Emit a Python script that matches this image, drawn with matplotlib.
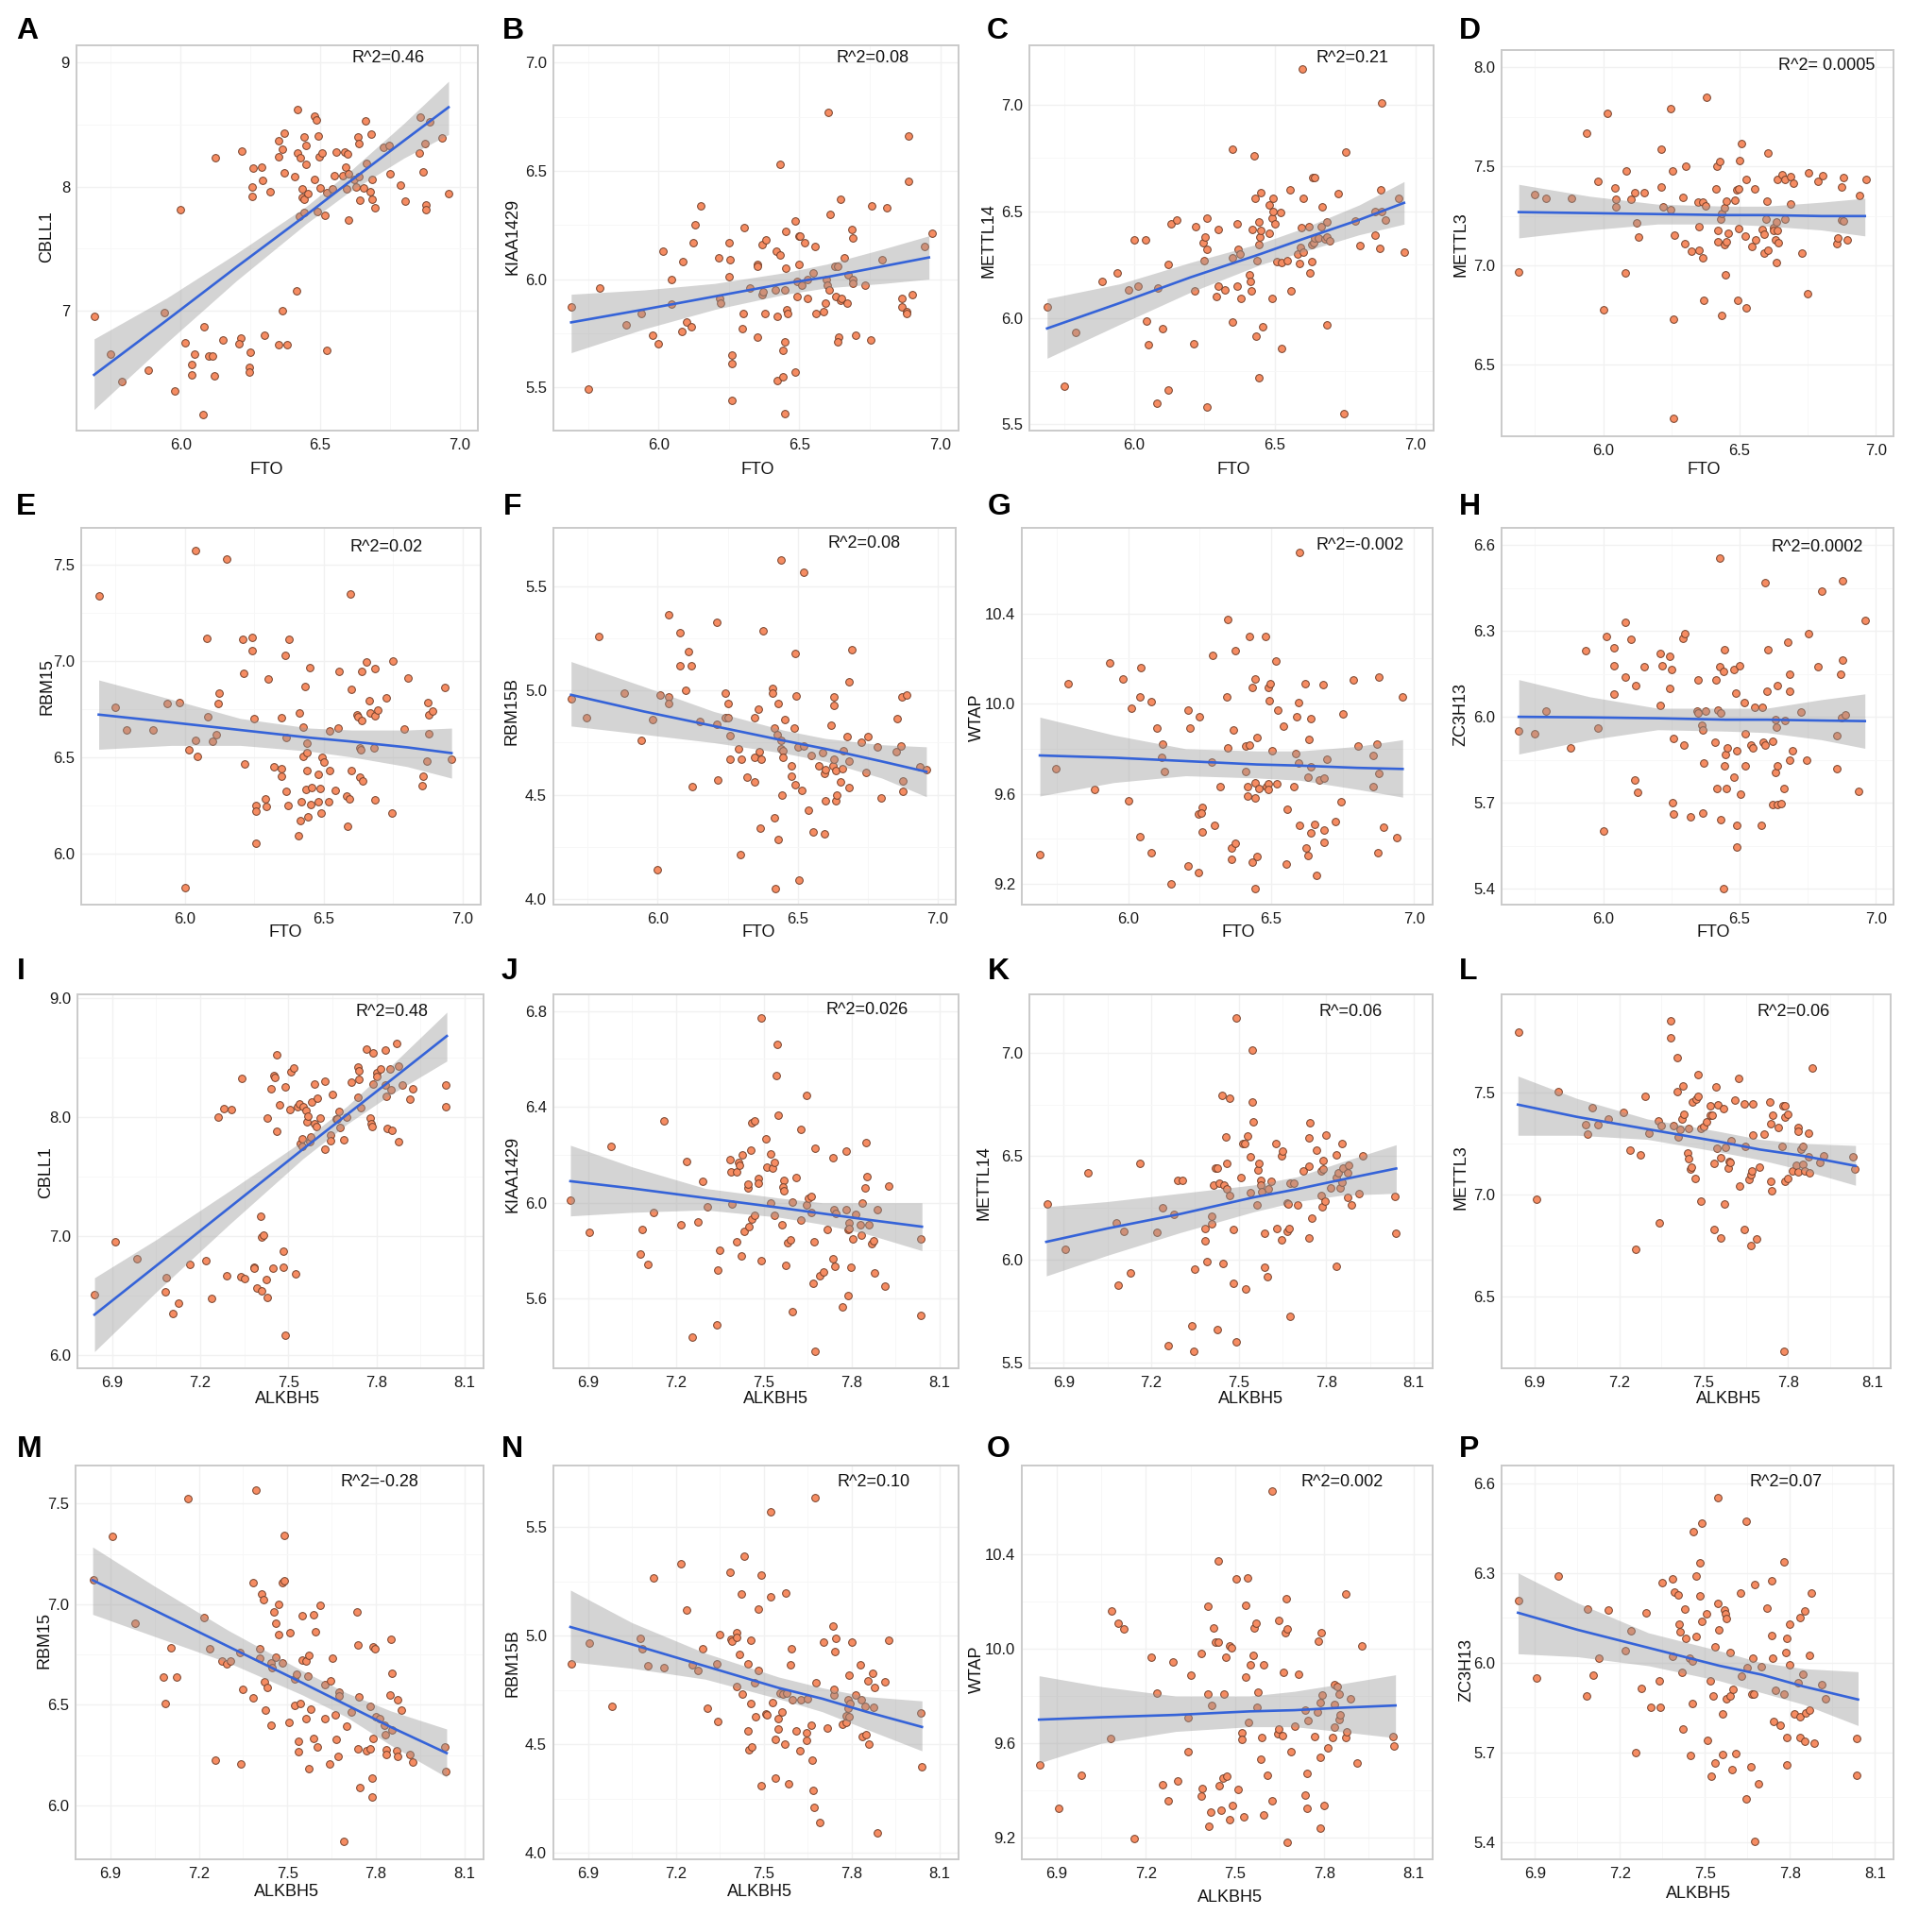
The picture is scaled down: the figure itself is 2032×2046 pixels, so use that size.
import matplotlib
matplotlib.use('Agg')
import matplotlib.pyplot as plt

plt.rcParams['font.family'] = ['Liberation Sans', 'DejaVu Sans']

W, H = 2033, 2046

# points, one list per panel (gene x, gene y)
pts_a = [(5.69,6.95),(5.75,6.65),(5.79,6.43),(5.885,6.52),(5.94,6.98),(5.98,6.35),(6.0,7.81),(6.015,6.74),(6.05,6.65),(6.04,6.56),(6.04,6.48),(6.08,6.16),(6.085,6.87),(6.10,6.63),(6.115,6.63),(6.12,6.47),(6.125,8.23),(6.15,6.76),(6.215,6.78),(6.21,6.73),(6.22,8.29),(6.25,6.66),(6.245,6.54),(6.245,6.50),(6.257,8.0),(6.257,7.92),(6.26,8.15),(6.29,8.16),(6.295,8.05),(6.30,6.80),(6.32,7.96),(6.35,6.72),(6.35,8.24),(6.35,8.37),(6.365,8.30),(6.365,7.0),(6.37,8.11),(6.373,8.43),(6.38,6.72),(6.41,8.08),(6.414,7.16),(6.42,8.27),(6.42,8.62),(6.43,8.23),(6.426,7.76),(6.435,7.98),(6.434,7.91),(6.443,7.90),(6.444,8.40),(6.45,8.33),(6.45,8.18),(6.444,7.79),(6.455,7.94),(6.48,8.06),(6.48,8.57),(6.488,8.54),(6.49,7.80),(6.494,8.41),(6.495,8.24),(6.50,7.99),(6.506,8.27),(6.517,7.77),(6.523,7.95),(6.523,6.68),(6.543,7.98),(6.552,8.09),(6.557,8.28),(6.58,8.09),(6.587,8.28),(6.59,8.16),(6.595,7.98),(6.598,8.26),(6.602,7.73),(6.60,8.10),(6.623,8.06),(6.63,8.0),(6.634,8.40),(6.64,8.35),(6.64,8.08),(6.643,7.89),(6.655,7.99),(6.664,8.53),(6.666,8.19),(6.68,7.96),(6.684,8.42),(6.685,7.90),(6.687,8.06),(6.695,7.83),(6.727,8.32),(6.746,8.33),(6.752,8.10),(6.787,8.01),(6.804,7.88),(6.855,8.27),(6.858,8.56),(6.87,8.12),(6.875,8.35),(6.88,7.85),(6.88,7.81),(6.894,8.52),(6.937,8.39),(6.96,7.94)]
pts_b = [(5.69,5.87),(5.75,5.49),(5.79,5.96),(5.885,5.79),(5.94,5.84),(5.98,5.74),(6.0,5.70),(6.015,6.13),(6.045,6.0),(6.046,5.885),(6.083,5.76),(6.085,6.08),(6.10,5.80),(6.117,5.78),(6.122,6.17),(6.13,6.25),(6.15,6.34),(6.214,6.10),(6.217,5.91),(6.22,5.89),(6.25,6.17),(6.25,6.01),(6.254,6.09),(6.26,5.65),(6.26,5.61),(6.26,5.44),(6.296,5.77),(6.30,5.84),(6.304,6.24),(6.325,5.96),(6.35,6.07),(6.35,6.06),(6.35,5.73),(6.367,6.16),(6.368,5.93),(6.37,5.94),(6.378,5.84),(6.38,6.18),(6.414,5.95),(6.418,6.13),(6.423,5.83),(6.422,5.53),(6.43,6.53),(6.432,6.11),(6.44,5.67),(6.44,5.55),(6.448,5.95),(6.448,5.38),(6.449,5.71),(6.45,6.05),(6.453,6.22),(6.455,5.86),(6.459,5.84),(6.485,6.27),(6.485,5.57),(6.493,5.99),(6.493,5.92),(6.497,6.20),(6.503,6.20),(6.50,6.07),(6.51,5.97),(6.52,6.17),(6.528,5.91),(6.53,6.0),(6.55,6.03),(6.557,6.15),(6.56,5.84),(6.585,5.85),(6.593,5.89),(6.596,6.0),(6.60,5.97),(6.603,6.77),(6.606,5.95),(6.608,6.30),(6.627,6.06),(6.63,5.92),(6.637,6.06),(6.64,5.73),(6.637,5.71),(6.645,6.37),(6.645,5.90),(6.648,5.91),(6.66,6.10),(6.669,5.89),(6.673,6.02),(6.685,6.23),(6.69,6.19),(6.69,6.0),(6.69,5.98),(6.70,5.74),(6.733,5.97),(6.753,5.72),(6.758,6.34),(6.793,6.09),(6.81,6.33),(6.863,5.87),(6.864,5.91),(6.88,5.85),(6.88,5.84),(6.886,6.66),(6.886,6.45),(6.90,5.93),(6.945,6.15),(6.97,6.21)]
pts_c = [(5.69,6.05),(5.75,5.68),(5.79,5.93),(5.885,6.17),(5.94,6.21),(5.98,6.13),(6.0,6.365),(6.015,6.15),(6.04,6.365),(6.045,5.985),(6.05,5.875),(6.08,5.60),(6.085,6.14),(6.10,5.95),(6.12,5.66),(6.12,6.25),(6.13,6.44),(6.15,6.46),(6.215,6.125),(6.21,5.88),(6.22,6.43),(6.246,6.355),(6.253,6.38),(6.247,6.27),(6.26,6.32),(6.26,6.47),(6.257,5.58),(6.293,6.10),(6.298,6.15),(6.30,6.415),(6.323,6.13),(6.348,5.98),(6.35,6.79),(6.35,6.28),(6.365,6.44),(6.365,6.15),(6.368,6.32),(6.376,6.30),(6.38,6.09),(6.41,6.20),(6.414,6.17),(6.42,6.415),(6.418,6.125),(6.427,6.76),(6.43,6.56),(6.435,5.915),(6.436,6.27),(6.444,6.45),(6.444,6.345),(6.444,5.72),(6.446,6.38),(6.45,6.41),(6.45,6.59),(6.456,5.96),(6.48,6.395),(6.48,6.53),(6.49,6.47),(6.49,6.09),(6.493,6.56),(6.495,6.50),(6.50,6.44),(6.507,6.265),(6.52,6.495),(6.523,6.26),(6.523,5.855),(6.543,6.27),(6.553,6.60),(6.557,6.125),(6.58,6.30),(6.588,6.255),(6.59,6.33),(6.596,6.425),(6.597,7.17),(6.60,6.31),(6.603,6.56),(6.623,6.43),(6.625,6.21),(6.632,6.265),(6.633,6.345),(6.634,6.66),(6.64,6.66),(6.638,6.355),(6.643,6.375),(6.654,6.375),(6.664,6.43),(6.667,6.52),(6.68,6.37),(6.685,6.45),(6.687,6.38),(6.686,5.965),(6.696,6.36),(6.727,6.585),(6.747,5.55),(6.753,6.78),(6.787,6.457),(6.804,6.34),(6.856,6.50),(6.858,6.39),(6.873,6.325),(6.876,6.60),(6.88,7.01),(6.88,6.50),(6.894,6.46),(6.94,6.56),(6.962,6.31)]
pts_d = [(5.69,6.97),(5.75,7.36),(5.79,7.34),(5.885,7.34),(5.94,7.67),(5.98,7.425),(6.0,6.78),(6.014,7.767),(6.044,7.39),(6.045,7.336),(6.047,7.296),(6.082,6.965),(6.084,7.477),(6.10,7.336),(6.117,7.366),(6.122,7.217),(6.128,7.144),(6.15,7.366),(6.212,7.586),(6.214,7.398),(6.218,7.295),(6.247,7.79),(6.246,7.282),(6.253,7.48),(6.258,6.73),(6.26,7.154),(6.259,6.23),(6.294,7.345),(6.298,7.11),(6.303,7.50),(6.323,7.073),(6.349,7.32),(6.351,7.198),(6.351,7.078),(6.364,7.32),(6.366,7.04),(6.37,6.826),(6.374,7.30),(6.38,7.85),(6.412,7.388),(6.416,7.50),(6.42,7.18),(6.419,7.122),(6.427,7.523),(6.43,7.233),(6.435,7.265),(6.436,6.75),(6.445,7.29),(6.447,6.954),(6.446,7.105),(6.45,7.122),(6.453,7.323),(6.457,7.163),(6.482,7.328),(6.49,7.382),(6.492,6.827),(6.495,7.385),(6.497,7.187),(6.50,7.53),(6.508,7.618),(6.52,7.15),(6.524,6.786),(6.524,7.434),(6.545,7.095),(6.554,7.385),(6.559,7.128),(6.582,7.184),(6.589,7.062),(6.592,7.157),(6.597,7.233),(6.60,7.323),(6.603,7.076),(6.604,7.567),(6.625,7.193),(6.625,7.176),(6.634,7.22),(6.633,7.132),(6.634,7.017),(6.64,7.176),(6.64,7.437),(6.643,7.114),(6.656,7.461),(6.665,7.433),(6.667,7.236),(6.686,7.448),(6.687,7.31),(6.696,7.418),(6.729,7.063),(6.748,6.86),(6.754,7.466),(6.789,7.423),(6.806,7.452),(6.857,7.11),(6.859,7.14),(6.873,7.231),(6.876,7.395),(6.88,7.227),(6.88,7.442),(6.895,7.128),(6.939,7.352),(6.963,7.433)]
pts_e = [(5.69,7.335),(5.75,6.76),(5.79,6.64),(5.885,6.64),(5.935,6.78),(5.98,6.785),(6.0,5.82),(6.013,6.535),(6.04,7.57),(6.04,6.585),(6.045,6.505),(6.08,7.115),(6.083,6.71),(6.10,6.58),(6.114,6.615),(6.12,6.78),(6.125,6.83),(6.15,7.527),(6.21,7.11),(6.212,6.935),(6.216,6.465),(6.243,7.12),(6.243,7.05),(6.25,6.70),(6.257,6.25),(6.257,6.22),(6.257,6.05),(6.29,6.28),(6.295,6.245),(6.30,6.905),(6.32,6.45),(6.346,6.705),(6.348,6.44),(6.348,6.40),(6.36,7.03),(6.364,6.60),(6.366,6.32),(6.373,6.25),(6.375,7.11),(6.41,6.09),(6.413,6.73),(6.417,6.17),(6.42,6.27),(6.426,6.655),(6.426,6.505),(6.433,6.865),(6.435,6.33),(6.44,6.57),(6.44,6.525),(6.44,6.43),(6.444,6.19),(6.45,6.965),(6.453,6.255),(6.455,6.34),(6.48,6.41),(6.48,6.27),(6.487,6.335),(6.49,6.21),(6.493,6.50),(6.50,6.475),(6.518,6.27),(6.522,6.43),(6.522,6.635),(6.54,6.325),(6.55,6.65),(6.555,6.945),(6.583,6.295),(6.585,6.14),(6.594,6.28),(6.596,7.345),(6.598,6.85),(6.60,6.43),(6.62,6.72),(6.623,6.71),(6.63,6.395),(6.63,6.545),(6.632,6.535),(6.638,6.945),(6.638,6.69),(6.64,6.375),(6.654,6.995),(6.663,6.79),(6.667,6.73),(6.68,6.545),(6.683,6.275),(6.683,6.96),(6.683,6.715),(6.694,6.745),(6.725,6.805),(6.745,6.21),(6.75,7.0),(6.788,6.645),(6.804,6.91),(6.857,6.40),(6.855,6.35),(6.87,6.48),(6.873,6.785),(6.877,6.72),(6.877,6.62),(6.89,6.74),(6.935,6.86),(6.96,6.49)]
pts_f = [(5.69,4.96),(5.745,4.87),(5.79,5.26),(5.88,4.99),(5.94,4.76),(5.98,4.86),(6.0,4.14),(6.01,4.98),(6.04,5.365),(6.04,4.97),(6.04,4.94),(6.08,5.28),(6.08,5.12),(6.10,5.0),(6.11,5.19),(6.12,5.12),(6.124,4.54),(6.15,4.85),(6.21,5.33),(6.21,4.84),(6.215,4.57),(6.243,4.99),(6.243,4.87),(6.25,4.94),(6.252,4.87),(6.257,4.785),(6.257,4.67),(6.294,4.21),(6.29,4.72),(6.30,4.67),(6.32,4.585),(6.345,4.87),(6.347,4.68),(6.347,4.56),(6.36,4.91),(6.363,4.705),(6.367,4.34),(6.37,4.67),(6.376,5.29),(6.41,5.01),(6.41,4.99),(6.416,4.39),(6.416,4.82),(6.42,4.05),(6.427,4.79),(6.43,4.94),(6.43,4.285),(6.44,5.63),(6.442,4.76),(6.442,4.72),(6.445,4.50),(6.447,4.71),(6.447,4.68),(6.453,4.86),(6.478,4.64),(6.478,4.59),(6.487,4.82),(6.49,4.55),(6.49,5.18),(6.493,4.975),(6.50,4.73),(6.504,4.09),(6.515,4.52),(6.522,5.57),(6.522,4.735),(6.54,4.425),(6.55,4.69),(6.555,4.32),(6.577,4.64),(6.588,4.70),(6.595,4.31),(6.595,4.60),(6.60,4.62),(6.60,4.47),(6.62,4.835),(6.626,4.64),(6.63,4.97),(6.63,4.93),(6.63,4.67),(6.637,4.615),(6.637,4.47),(6.64,4.50),(6.653,4.56),(6.66,4.625),(6.664,4.71),(6.677,4.78),(6.684,4.66),(6.684,5.045),(6.684,4.535),(6.695,5.195),(6.726,4.75),(6.745,4.605),(6.75,4.78),(6.785,4.73),(6.80,4.486),(6.854,4.706),(6.856,4.865),(6.87,4.733),(6.874,4.97),(6.876,4.567),(6.876,4.515),(6.89,4.977),(6.938,4.636),(6.96,4.62)]
pts_g = [(5.69,9.33),(5.747,9.71),(5.79,10.09),(5.88,9.62),(5.935,10.18),(5.98,10.11),(6.0,9.57),(6.01,9.98),(6.04,10.03),(6.04,9.41),(6.045,10.16),(6.08,10.01),(6.08,9.34),(6.10,9.89),(6.12,9.82),(6.115,9.76),(6.125,9.70),(6.15,9.20),(6.21,9.97),(6.217,9.89),(6.21,9.28),(6.246,9.25),(6.25,9.94),(6.246,9.51),(6.257,9.54),(6.255,9.515),(6.257,9.43),(6.29,9.74),(6.295,10.215),(6.30,9.46),(6.32,9.63),(6.345,10.03),(6.347,10.375),(6.347,9.805),(6.362,9.36),(6.362,9.31),(6.367,9.885),(6.373,10.235),(6.375,9.38),(6.41,9.81),(6.41,9.70),(6.417,9.59),(6.417,9.63),(6.425,10.30),(6.425,9.815),(6.435,9.295),(6.435,10.07),(6.443,10.11),(6.443,9.65),(6.443,9.58),(6.443,9.18),(6.45,9.85),(6.45,9.32),(6.457,9.625),(6.48,10.30),(6.483,9.63),(6.49,10.07),(6.49,9.645),(6.49,9.62),(6.495,10.09),(6.493,10.015),(6.504,9.79),(6.517,10.19),(6.523,9.97),(6.52,9.645),(6.543,9.90),(6.553,9.29),(6.555,9.53),(6.58,9.63),(6.586,9.78),(6.59,9.94),(6.595,9.735),(6.595,10.005),(6.60,10.67),(6.60,9.46),(6.62,10.09),(6.622,9.36),(6.63,9.325),(6.633,9.84),(6.63,9.675),(6.64,9.935),(6.64,9.425),(6.64,9.72),(6.652,9.465),(6.66,9.24),(6.667,9.66),(6.68,10.085),(6.684,9.67),(6.684,9.44),(6.684,9.385),(6.694,9.755),(6.726,9.475),(6.745,9.565),(6.75,9.955),(6.787,10.105),(6.804,9.81),(6.857,9.77),(6.857,9.63),(6.87,9.82),(6.874,9.34),(6.878,10.12),(6.878,9.69),(6.893,9.45),(6.938,9.405),(6.96,10.03)]
pts_h = [(5.69,5.95),(5.75,5.94),(5.79,6.02),(5.88,5.89),(5.935,6.23),(5.98,5.96),(6.0,5.60),(6.01,6.28),(6.04,6.24),(6.04,6.18),(6.04,6.08),(6.08,6.14),(6.08,6.33),(6.10,6.27),(6.115,5.78),(6.12,6.11),(6.126,5.735),(6.15,6.175),(6.21,6.22),(6.215,6.18),(6.21,6.04),(6.244,6.21),(6.25,6.165),(6.244,6.10),(6.257,5.925),(6.255,5.70),(6.257,5.66),(6.293,6.275),(6.30,6.29),(6.295,5.90),(6.32,5.65),(6.348,6.13),(6.346,6.02),(6.348,6.012),(6.36,5.97),(6.364,5.955),(6.366,5.665),(6.37,5.84),(6.377,6.02),(6.41,5.91),(6.412,6.13),(6.417,5.75),(6.42,6.025),(6.426,6.555),(6.426,6.175),(6.432,6.015),(6.432,5.64),(6.443,5.40),(6.445,6.233),(6.443,6.16),(6.445,5.83),(6.448,5.867),(6.45,5.75),(6.455,5.89),(6.48,6.165),(6.48,5.79),(6.486,6.084),(6.49,5.88),(6.49,5.545),(6.49,5.62),(6.50,6.18),(6.505,5.73),(6.517,6.05),(6.52,5.94),(6.52,5.83),(6.543,5.90),(6.55,5.89),(6.557,6.033),(6.58,5.62),(6.583,6.034),(6.588,5.91),(6.594,6.47),(6.594,5.90),(6.60,6.09),(6.603,6.233),(6.62,5.695),(6.623,5.914),(6.632,5.805),(6.632,5.99),(6.634,5.963),(6.638,5.693),(6.64,5.83),(6.638,6.108),(6.652,5.697),(6.663,5.75),(6.665,5.986),(6.678,6.26),(6.683,6.088),(6.685,6.15),(6.685,5.85),(6.694,5.88),(6.727,6.017),(6.745,5.85),(6.752,6.29),(6.787,6.175),(6.803,6.44),(6.856,5.933),(6.856,5.82),(6.87,6.148),(6.876,5.996),(6.878,6.198),(6.878,6.475),(6.89,6.008),(6.938,5.74),(6.96,6.338)]
pts_i = [(6.84,6.51),(6.91,6.95),(6.985,6.81),(7.08,6.53),(7.085,6.655),(7.107,6.35),(7.125,6.44),(7.164,6.76),(7.22,6.79),(7.24,6.48),(7.26,8.0),(7.28,8.07),(7.29,6.665),(7.307,8.06),(7.343,8.325),(7.34,6.66),(7.35,6.64),(7.385,6.74),(7.385,6.73),(7.394,6.565),(7.406,7.165),(7.41,6.99),(7.417,7.01),(7.41,6.54),(7.425,6.635),(7.427,7.99),(7.43,6.485),(7.44,8.24),(7.447,6.73),(7.45,8.35),(7.455,8.33),(7.46,8.52),(7.46,7.88),(7.47,8.10),(7.484,6.87),(7.484,6.74),(7.49,8.255),(7.49,6.17),(7.505,8.06),(7.51,8.38),(7.52,8.41),(7.524,6.68),(7.53,8.09),(7.537,8.11),(7.54,7.775),(7.548,7.82),(7.546,7.75),(7.55,8.09),(7.56,8.055),(7.563,7.96),(7.567,8.005),(7.573,7.79),(7.575,7.835),(7.58,8.13),(7.588,8.28),(7.59,7.94),(7.596,7.92),(7.598,8.16),(7.61,7.99),(7.626,8.30),(7.626,7.73),(7.643,7.85),(7.645,7.80),(7.65,8.19),(7.664,7.98),(7.668,7.985),(7.676,7.91),(7.672,8.05),(7.69,7.81),(7.70,8.0),(7.716,8.29),(7.737,8.165),(7.737,8.42),(7.74,8.39),(7.74,8.32),(7.748,8.08),(7.767,8.57),(7.78,7.99),(7.782,7.94),(7.786,7.916),(7.788,8.28),(7.79,8.535),(7.80,8.37),(7.80,8.34),(7.814,8.40),(7.83,8.56),(7.832,8.27),(7.835,8.17),(7.837,7.905),(7.847,8.40),(7.85,8.23),(7.853,7.89),(7.87,8.62),(7.875,8.43),(7.877,7.79),(7.887,8.27),(7.913,8.15),(7.925,8.24),(8.035,8.09),(8.037,8.27)]
pts_j = [(6.84,6.01),(6.906,5.875),(6.98,6.236),(7.08,5.786),(7.084,5.89),(7.105,5.743),(7.125,5.96),(7.16,6.34),(7.218,5.907),(7.237,6.174),(7.256,5.44),(7.275,5.92),(7.29,6.09),(7.307,5.983),(7.34,5.49),(7.343,5.72),(7.35,5.80),(7.385,6.18),(7.387,6.13),(7.39,5.995),(7.406,6.13),(7.408,5.836),(7.413,6.17),(7.417,6.156),(7.423,5.78),(7.428,6.2),(7.434,5.88),(7.445,6.06),(7.445,6.076),(7.45,5.90),(7.455,6.218),(7.46,5.93),(7.46,6.334),(7.468,6.343),(7.47,5.946),(7.48,6.10),(7.483,6.08),(7.49,6.77),(7.49,5.76),(7.506,6.267),(7.512,6.15),(7.523,6.203),(7.525,6.0),(7.53,6.146),(7.536,6.17),(7.536,5.946),(7.544,6.53),(7.546,6.66),(7.55,6.366),(7.563,5.907),(7.567,6.093),(7.565,6.064),(7.57,6.05),(7.574,5.737),(7.58,5.835),(7.59,5.847),(7.597,5.546),(7.597,6.004),(7.61,6.105),(7.627,5.928),(7.627,6.305),(7.646,6.447),(7.646,5.99),(7.652,6.02),(7.663,6.026),(7.663,5.96),(7.67,5.665),(7.673,5.836),(7.675,6.227),(7.675,5.38),(7.69,5.696),(7.703,5.71),(7.718,5.89),(7.737,6.19),(7.737,5.767),(7.74,5.97),(7.743,5.734),(7.747,5.954),(7.767,5.565),(7.78,6.215),(7.78,5.972),(7.788,5.887),(7.788,5.613),(7.79,5.915),(7.79,5.894),(7.798,5.73),(7.803,5.85),(7.813,5.95),(7.83,5.907),(7.832,5.866),(7.835,5.997),(7.847,6.06),(7.85,6.25),(7.853,6.108),(7.858,5.907),(7.87,5.83),(7.875,5.843),(7.877,5.706),(7.887,5.97),(7.913,5.65),(7.925,6.068),(8.036,5.85),(8.037,5.53)]
pts_k = [(6.843,6.27),(6.905,6.05),(6.984,6.417),(7.08,6.175),(7.085,5.877),(7.106,6.135),(7.127,5.936),(7.162,6.463),(7.22,6.13),(7.238,6.25),(7.257,5.583),(7.278,6.216),(7.292,6.384),(7.307,6.384),(7.34,5.68),(7.344,5.553),(7.35,5.954),(7.385,6.15),(7.385,6.09),(7.392,5.988),(7.408,6.21),(7.408,6.173),(7.412,6.36),(7.42,6.444),(7.427,6.444),(7.425,5.66),(7.433,6.368),(7.444,6.793),(7.447,5.98),(7.45,6.362),(7.456,6.594),(7.46,6.342),(7.46,6.463),(7.47,6.78),(7.47,6.31),(7.483,6.143),(7.483,5.883),(7.49,7.17),(7.491,5.603),(7.508,6.397),(7.514,6.563),(7.522,6.563),(7.524,5.857),(7.53,6.598),(7.54,6.495),(7.54,6.323),(7.545,6.763),(7.547,7.014),(7.55,6.664),(7.564,6.262),(7.566,6.432),(7.57,6.463),(7.574,6.382),(7.576,6.362),(7.58,6.327),(7.588,6.128),(7.59,5.96),(7.597,5.916),(7.6,6.34),(7.61,6.377),(7.628,6.563),(7.63,6.15),(7.646,6.5),(7.646,6.093),(7.65,6.524),(7.665,6.134),(7.667,6.274),(7.67,6.27),(7.673,6.15),(7.677,6.37),(7.677,5.723),(7.69,6.367),(7.703,6.266),(7.72,6.43),(7.74,6.103),(7.74,6.45),(7.742,6.587),(7.744,6.66),(7.75,6.20),(7.768,6.53),(7.783,6.31),(7.783,6.428),(7.79,6.437),(7.787,6.256),(7.79,6.478),(7.796,6.283),(7.80,6.604),(7.814,6.347),(7.835,5.968),(7.835,6.504),(7.835,6.396),(7.84,6.42),(7.847,6.347),(7.853,6.56),(7.855,6.374),(7.857,6.443),(7.874,6.30),(7.874,6.417),(7.878,6.455),(7.888,6.265),(7.913,6.32),(7.926,6.5),(8.036,6.304),(8.04,6.128)]
pts_l = [(6.843,7.794),(6.907,6.975),(6.983,7.502),(7.08,7.34),(7.086,7.297),(7.105,7.425),(7.124,7.342),(7.16,7.368),(7.216,7.40),(7.238,7.217),(7.257,6.732),(7.277,7.194),(7.292,7.482),(7.307,7.30),(7.34,7.36),(7.343,6.86),(7.35,7.337),(7.384,7.852),(7.384,7.767),(7.392,7.337),(7.407,7.669),(7.407,7.502),(7.41,7.282),(7.418,7.319),(7.423,7.368),(7.427,7.53),(7.431,7.394),(7.442,7.203),(7.446,7.324),(7.448,7.176),(7.455,7.125),(7.457,7.133),(7.461,7.453),(7.47,7.079),(7.472,7.468),(7.48,7.587),(7.48,7.48),(7.49,7.325),(7.49,6.966),(7.502,7.331),(7.51,7.356),(7.523,7.436),(7.525,7.388),(7.53,7.388),(7.536,6.827),(7.538,7.151),(7.545,7.527),(7.547,7.228),(7.55,7.44),(7.562,7.179),(7.562,6.786),(7.57,7.42),(7.573,6.955),(7.577,7.233),(7.586,7.13),(7.59,7.163),(7.594,7.159),(7.597,7.265),(7.61,7.462),(7.624,7.57),(7.628,7.043),(7.646,7.442),(7.648,7.237),(7.646,6.829),(7.663,7.074),(7.668,7.099),(7.672,7.114),(7.668,6.752),(7.674,7.444),(7.676,7.293),(7.69,6.781),(7.70,7.133),(7.716,7.296),(7.736,7.451),(7.738,7.348),(7.74,7.065),(7.742,7.017),(7.747,7.388),(7.766,7.328),(7.78,7.234),(7.783,7.435),(7.79,7.435),(7.79,7.063),(7.787,6.23),(7.79,7.379),(7.798,7.391),(7.798,7.08),(7.815,7.116),(7.828,7.145),(7.835,7.33),(7.835,7.31),(7.835,7.111),(7.847,7.222),(7.852,7.237),(7.854,7.148),(7.858,7.114),(7.873,7.302),(7.873,7.186),(7.875,7.106),(7.886,7.619),(7.912,7.156),(7.925,7.191),(8.032,7.186),(8.036,7.123)]
pts_m = [(6.843,7.12),(6.906,7.337),(6.984,6.904),(7.08,6.638),(7.085,6.506),(7.106,6.784),(7.125,6.638),(7.163,7.525),(7.217,6.934),(7.238,6.78),(7.257,6.223),(7.278,6.72),(7.295,6.704),(7.308,6.716),(7.34,6.76),(7.343,6.205),(7.35,6.578),(7.385,7.107),(7.385,6.534),(7.392,7.57),(7.406,6.78),(7.406,6.732),(7.413,7.05),(7.42,7.025),(7.423,6.614),(7.427,6.476),(7.432,6.585),(7.444,6.397),(7.446,6.707),(7.448,6.687),(7.455,6.964),(7.46,6.908),(7.46,6.738),(7.47,7.0),(7.47,6.85),(7.482,7.11),(7.484,6.71),(7.488,7.342),(7.49,7.116),(7.505,6.414),(7.51,6.859),(7.524,6.497),(7.526,6.63),(7.53,6.65),(7.537,6.32),(7.537,6.268),(7.545,6.505),(7.55,6.723),(7.55,6.945),(7.562,6.718),(7.564,6.43),(7.568,6.643),(7.572,6.745),(7.572,6.185),(7.58,6.48),(7.59,6.948),(7.59,6.335),(7.596,6.862),(7.6,6.292),(7.61,6.997),(7.627,6.43),(7.627,6.6),(7.644,6.208),(7.646,6.62),(7.652,6.73),(7.663,6.45),(7.665,6.328),(7.673,6.245),(7.675,6.564),(7.675,6.544),(7.69,5.82),(7.702,6.395),(7.717,6.464),(7.736,6.96),(7.738,6.28),(7.74,6.80),(7.742,6.538),(7.747,6.09),(7.768,6.27),(7.78,6.28),(7.782,6.494),(7.787,6.138),(7.787,6.044),(7.789,6.79),(7.79,6.335),(7.797,6.78),(7.8,6.442),(7.814,6.432),(7.83,6.397),(7.833,6.35),(7.835,6.278),(7.835,6.254),(7.847,6.547),(7.852,6.828),(7.854,6.657),(7.856,6.375),(7.87,6.273),(7.873,6.246),(7.875,6.527),(7.887,6.476),(7.915,6.252),(7.925,6.216),(8.034,6.293),(8.036,6.168)]
pts_n = [(6.843,4.87),(6.906,4.967),(6.983,4.676),(7.08,4.988),(7.084,4.94),(7.105,4.86),(7.125,5.266),(7.16,4.853),(7.218,5.33),(7.237,5.12),(7.256,4.868),(7.275,4.84),(7.292,4.942),(7.307,4.665),(7.34,4.87),(7.343,4.607),(7.35,5.004),(7.385,5.293),(7.387,4.985),(7.39,4.975),(7.406,5.015),(7.408,4.99),(7.408,4.766),(7.417,4.914),(7.423,5.19),(7.427,4.733),(7.432,5.367),(7.445,4.56),(7.447,4.87),(7.449,4.473),(7.457,4.98),(7.46,4.488),(7.455,4.687),(7.47,4.782),(7.472,4.626),(7.48,4.84),(7.483,5.123),(7.49,4.31),(7.49,5.28),(7.508,4.64),(7.512,4.637),(7.523,5.178),(7.523,5.569),(7.531,4.694),(7.538,4.522),(7.538,4.344),(7.548,4.57),(7.55,4.617),(7.557,4.737),(7.563,4.647),(7.565,4.733),(7.572,4.5),(7.574,5.195),(7.578,4.737),(7.586,4.318),(7.59,4.865),(7.595,4.94),(7.597,4.704),(7.61,4.563),(7.625,4.472),(7.627,4.705),(7.646,4.554),(7.646,4.517),(7.65,4.711),(7.663,4.586),(7.665,4.428),(7.67,4.289),(7.673,4.212),(7.675,5.634),(7.678,4.782),(7.69,4.139),(7.703,4.972),(7.718,4.573),(7.739,4.726),(7.741,4.752),(7.743,4.929),(7.737,5.046),(7.747,4.987),(7.769,4.591),(7.78,4.601),(7.781,4.633),(7.788,4.666),(7.788,4.705),(7.79,4.628),(7.794,4.686),(7.792,4.819),(7.8,4.971),(7.815,4.726),(7.83,4.865),(7.834,4.705),(7.836,4.536),(7.847,4.673),(7.85,4.543),(7.855,4.792),(7.858,4.5),(7.872,4.829),(7.875,4.671),(7.877,4.762),(7.887,4.093),(7.913,4.787),(7.925,4.977),(8.036,4.646),(8.038,4.398)]
pts_o = [(6.843,9.507),(6.906,9.326),(6.983,9.463),(7.08,9.619),(7.085,10.16),(7.105,10.11),(7.124,10.086),(7.16,9.195),(7.217,9.965),(7.237,9.813),(7.256,9.426),(7.276,9.356),(7.29,9.944),(7.306,9.441),(7.34,9.707),(7.343,9.563),(7.35,9.889),(7.386,9.981),(7.39,9.409),(7.386,9.376),(7.408,10.18),(7.408,9.81),(7.41,9.249),(7.418,9.31),(7.422,9.76),(7.426,10.088),(7.433,10.03),(7.443,10.028),(7.443,10.374),(7.447,9.422),(7.453,9.318),(7.459,9.452),(7.461,9.81),(7.47,9.964),(7.471,9.459),(7.481,10.012),(7.481,9.275),(7.487,10.003),(7.491,9.337),(7.504,10.295),(7.51,9.405),(7.524,9.646),(7.524,9.618),(7.53,9.287),(7.536,10.184),(7.536,9.882),(7.542,10.30),(7.546,9.69),(7.55,9.932),(7.56,9.972),(7.565,10.088),(7.57,10.108),(7.573,9.753),(7.577,9.817),(7.587,9.531),(7.589,9.623),(7.595,9.934),(7.595,9.295),(7.61,9.465),(7.624,10.667),(7.626,9.356),(7.644,9.64),(7.646,10.122),(7.648,9.66),(7.66,9.634),(7.664,9.90),(7.668,10.067),(7.672,10.214),(7.674,10.084),(7.676,9.18),(7.689,9.564),(7.70,9.672),(7.715,9.894),(7.737,9.739),(7.737,9.382),(7.741,9.472),(7.743,9.324),(7.745,9.695),(7.766,9.63),(7.778,9.733),(7.78,10.032),(7.788,9.539),(7.788,9.242),(7.788,9.774),(7.79,10.068),(7.794,9.805),(7.798,9.337),(7.813,9.579),(7.829,9.626),(7.835,9.849),(7.833,9.766),(7.843,9.84),(7.835,9.67),(7.849,9.699),(7.851,9.81),(7.855,9.722),(7.872,10.233),(7.872,9.626),(7.876,9.65),(7.888,9.79),(7.912,9.516),(7.925,10.013),(8.032,9.63),(8.036,9.588)]
pts_p = [(6.842,6.209),(6.906,5.95),(6.981,6.29),(7.081,5.888),(7.086,6.179),(7.105,5.959),(7.126,6.016),(7.16,6.175),(7.218,6.04),(7.237,6.107),(7.256,5.70),(7.275,5.915),(7.292,6.168),(7.307,5.85),(7.339,5.94),(7.343,5.85),(7.35,6.269),(7.384,6.281),(7.386,6.02),(7.393,6.237),(7.405,6.228),(7.407,6.129),(7.412,6.102),(7.418,5.969),(7.422,5.78),(7.427,6.178),(7.431,6.08),(7.446,6.014),(7.448,5.691),(7.454,6.007),(7.454,5.865),(7.46,6.438),(7.469,6.087),(7.469,6.289),(7.482,6.333),(7.482,6.222),(7.488,6.468),(7.49,6.139),(7.505,6.165),(7.51,5.741),(7.523,5.62),(7.52,5.94),(7.53,5.889),(7.535,6.054),(7.535,5.666),(7.544,6.553),(7.546,6.197),(7.548,6.109),(7.561,5.83),(7.563,5.693),(7.567,6.177),(7.572,6.164),(7.576,6.148),(7.576,5.878),(7.587,6.033),(7.589,5.888),(7.595,5.643),(7.597,5.91),(7.608,5.697),(7.625,6.232),(7.627,5.956),(7.644,6.474),(7.644,5.544),(7.65,5.985),(7.661,5.653),(7.665,5.894),(7.672,5.896),(7.668,6.014),(7.674,6.26),(7.674,5.403),(7.689,5.597),(7.70,5.987),(7.717,6.182),(7.736,6.091),(7.736,6.274),(7.74,6.015),(7.742,5.805),(7.749,5.909),(7.766,5.79),(7.778,6.337),(7.778,5.896),(7.785,6.035),(7.787,5.659),(7.787,5.75),(7.789,6.083),(7.798,6.129),(7.80,5.994),(7.815,5.829),(7.828,5.934),(7.834,5.821),(7.834,5.749),(7.836,6.15),(7.845,5.962),(7.851,5.736),(7.853,6.174),(7.855,5.831),(7.87,6.025),(7.87,5.842),(7.875,6.233),(7.885,5.73),(7.913,5.926),(7.926,5.879),(8.034,5.625),(8.036,5.748)]

# fit line and confidence band, read at these x positions
fto_fit_x = [5.69, 5.95, 6.2, 6.45, 6.6, 6.8, 6.96]
alkbh5_fit_x = [6.84, 7.05, 7.3, 7.55, 7.7, 7.85, 8.04]

fit_a = [6.48,6.92,7.35,7.77,8.03,8.37,8.64]
up_a = [6.77,7.10,7.46,7.84,8.11,8.51,8.85]
lo_a = [6.20,6.74,7.24,7.70,7.95,8.23,8.42]
fit_b = [5.80,5.86,5.92,5.98,6.01,6.06,6.10]
up_b = [5.93,5.95,5.98,6.03,6.07,6.14,6.20]
lo_b = [5.66,5.77,5.86,5.93,5.96,5.98,6.00]
fit_c = [5.95,6.07,6.19,6.30,6.37,6.46,6.54]
up_c = [6.09,6.16,6.26,6.35,6.42,6.53,6.64]
lo_c = [5.81,5.97,6.12,6.25,6.31,6.39,6.44]
fit_d = [7.27,7.265,7.26,7.255,7.255,7.25,7.25]
up_d = [7.41,7.35,7.31,7.30,7.30,7.32,7.34]
lo_d = [7.14,7.18,7.21,7.21,7.20,7.18,7.15]
fit_e = [6.72,6.68,6.64,6.60,6.58,6.55,6.52]
up_e = [6.90,6.80,6.70,6.65,6.64,6.64,6.65]
lo_e = [6.54,6.56,6.56,6.53,6.50,6.45,6.39]
fit_f = [4.98,4.90,4.83,4.76,4.72,4.66,4.61]
up_f = [5.14,5.02,4.90,4.81,4.77,4.74,4.73]
lo_f = [4.83,4.79,4.75,4.70,4.66,4.58,4.49]
fit_g = [9.77,9.76,9.745,9.73,9.725,9.715,9.71]
up_g = [9.94,9.86,9.80,9.79,9.79,9.81,9.84]
lo_g = [9.59,9.65,9.68,9.67,9.66,9.62,9.585]
fit_h = [6.0,5.998,5.995,5.99,5.99,5.987,5.985]
up_h = [6.13,6.07,6.03,6.03,6.03,6.06,6.08]
lo_h = [5.87,5.92,5.955,5.95,5.945,5.92,5.89]
fit_i = [6.34,6.75,7.24,7.73,8.02,8.31,8.68]
up_i = [6.65,6.97,7.38,7.80,8.09,8.43,8.88]
lo_i = [6.03,6.53,7.10,7.65,7.94,8.19,8.47]
fit_j = [6.09,6.06,6.02,5.98,5.955,5.93,5.90]
up_j = [6.24,6.15,6.06,6.02,6.00,6.00,6.00]
lo_j = [5.945,5.96,5.97,5.94,5.91,5.87,5.80]
fit_k = [6.085,6.15,6.22,6.30,6.34,6.385,6.44]
up_k = [6.255,6.28,6.32,6.36,6.40,6.47,6.555]
lo_k = [5.92,6.02,6.13,6.23,6.28,6.31,6.32]
fit_l = [7.44,7.38,7.32,7.26,7.22,7.19,7.14]
up_l = [7.58,7.47,7.37,7.31,7.27,7.25,7.24]
lo_l = [7.29,7.29,7.27,7.21,7.17,7.12,7.045]
fit_m = [7.12,6.97,6.79,6.61,6.50,6.39,6.26]
up_m = [7.285,7.09,6.87,6.67,6.56,6.47,6.38]
lo_m = [6.95,6.84,6.71,6.55,6.44,6.30,6.14]
fit_n = [5.04,4.96,4.86,4.76,4.71,4.65,4.58]
up_n = [5.21,5.06,4.92,4.81,4.76,4.72,4.70]
lo_n = [4.88,4.85,4.80,4.71,4.65,4.57,4.47]
fit_o = [9.70,9.71,9.72,9.735,9.74,9.75,9.76]
up_o = [9.886,9.84,9.80,9.80,9.82,9.85,9.89]
lo_o = [9.516,9.60,9.65,9.67,9.67,9.65,9.623]
fit_p = [6.167,6.11,6.05,5.99,5.96,5.92,5.877]
up_p = [6.30,6.20,6.10,6.04,6.00,5.98,5.97]
lo_p = [6.03,6.02,5.99,5.94,5.90,5.86,5.79]

# panel, x gene, y gene, R^2 text, y ticks, y limits
panels = [
    ('A', 'FTO', 'CBLL1', 'R^2=0.46', [7, 8, 9], '%d', (6.03, 9.14), pts_a, fit_a, up_a, lo_a),
    ('B', 'FTO', 'KIAA1429', 'R^2=0.08', [5.5, 6.0, 6.5, 7.0], '%.1f', (5.30, 7.08), pts_b, fit_b, up_b, lo_b),
    ('C', 'FTO', 'METTL14', 'R^2=0.21', [5.5, 6.0, 6.5, 7.0], '%.1f', (5.47, 7.28), pts_c, fit_c, up_c, lo_c),
    ('D', 'FTO', 'METTL3', 'R^2= 0.0005', [6.5, 7.0, 7.5, 8.0], '%.1f', (6.14, 8.087), pts_d, fit_d, up_d, lo_d),
    ('E', 'FTO', 'RBM15', 'R^2=0.02', [6.0, 6.5, 7.0, 7.5], '%.1f', (5.733, 7.69), pts_e, fit_e, up_e, lo_e),
    ('F', 'FTO', 'RBM15B', 'R^2=0.08', [4.0, 4.5, 5.0, 5.5], '%.1f', (3.971, 5.783), pts_f, fit_f, up_f, lo_f),
    ('G', 'FTO', 'WTAP', 'R^2=-0.002', [9.2, 9.6, 10.0, 10.4], '%.1f', (9.108, 10.78), pts_g, fit_g, up_g, lo_g),
    ('H', 'FTO', 'ZC3H13', 'R^2=0.0002', [5.4, 5.7, 6.0, 6.3, 6.6], '%.1f', (5.344, 6.66), pts_h, fit_h, up_h, lo_h),
    ('I', 'ALKBH5', 'CBLL1', 'R^2=0.48', [6.0, 7.0, 8.0, 9.0], '%.1f', (5.89, 9.03), pts_i, fit_i, up_i, lo_i),
    ('J', 'ALKBH5', 'KIAA1429', 'R^2=0.026', [5.6, 6.0, 6.4, 6.8], '%.1f', (5.309, 6.87), pts_j, fit_j, up_j, lo_j),
    ('K', 'ALKBH5', 'METTL14', 'R^=0.06', [5.5, 6.0, 6.5, 7.0], '%.1f', (5.473, 7.283), pts_k, fit_k, up_k, lo_k),
    ('L', 'ALKBH5', 'METTL3', 'R^2=0.06', [6.5, 7.0, 7.5], '%.1f', (6.149, 7.98), pts_l, fit_l, up_l, lo_l),
    ('M', 'ALKBH5', 'RBM15', 'R^2=-0.28', [6.0, 6.5, 7.0, 7.5], '%.1f', (5.732, 7.69), pts_m, fit_m, up_m, lo_m),
    ('N', 'ALKBH5', 'RBM15B', 'R^2=0.10', [4.0, 4.5, 5.0, 5.5], '%.1f', (3.971, 5.783), pts_n, fit_n, up_n, lo_n),
    ('O', 'ALKBH5', 'WTAP', 'R^2=0.002', [9.2, 9.6, 10.0, 10.4], '%.1f', (9.108, 10.777), pts_o, fit_o, up_o, lo_o),
    ('P', 'ALKBH5', 'ZC3H13', 'R^2=0.07', [5.4, 5.7, 6.0, 6.3, 6.6], '%.1f', (5.343, 6.659), pts_p, fit_p, up_p, lo_p),
]

# layout in pixels: left, right, top, bottom of the frame
boxes = [(81,506,48,456),(586,1015,48,456),(1090,1518,48,456),(1590,2005,53,462),
         (86,509,559,958),(586,1012,559,958),(1082,1517,559,958),(1590,2005,559,958),
         (82,512,1053,1449),(586,1015,1053,1449),(1090,1517,1053,1449),(1590,2002,1053,1449),
         (80,512,1552,1969),(586,1015,1552,1969),(1082,1517,1552,1969),(1590,2005,1552,1969)]
r2_pos = [(411,62),(924,62),(1432,62),(1934,69),(409,580),(915,575),(1440,578),(1924,579),
          (415,1072),(918,1070),(1430,1072),(1899,1072),(402,1569),(925,1569),(1421,1569),(1891,1569)]
letter_pos = [(17,33),(532,33),(1045,33),(1545,33),(17,537),(533,537),(1046,537),(1545,537),
              (18,1029),(531,1029),(1046,1029),(1545,1029),(18,1535),(531,1535),(1045,1535),(1545,1535)]
xlabel_pos = [(282,497),(802,497),(1306,497),(1804,497),(302,988),(803,988),(1311,988),(1814,988),
              (304,1482),(821,1482),(1324,1482),(1830,1482),(303,2004),(804,2004),(1302,2010),(1798,2005)]
ylabel_pos = [(50,251),(543,250),(1047,255),(1547,259),(50,727),(542,753),(1034,760),(1547,757),
              (49,1242),(543,1243),(1042,1253),(1547,1247),(47,1737),(543,1761),(1034,1768),(1553,1768)]


def fx(px):
    return px / W


def fy(py):
    return 1 - py / H


fig = plt.figure(figsize=(W / 100, H / 100), dpi=100)

for i, p in enumerate(panels):
    letter, xgene, ygene, r2, yticks, yfmt, ylim, pts, fit, up, lo = p
    l, r, t, b = boxes[i]
    ax = fig.add_axes([fx(l), fy(b), (r - l) / W, (b - t) / H])

    if xgene == 'FTO':
        fit_x = fto_fit_x
        xticks = [6.0, 6.5, 7.0]
        xminor = [5.75, 6.25, 6.75]
        ax.set_xlim(5.627, 7.065)
    else:
        fit_x = alkbh5_fit_x
        xticks = [6.9, 7.2, 7.5, 7.8, 8.1]
        xminor = [7.05, 7.35, 7.65, 7.95]
        ax.set_xlim(6.782, 8.165)

    xs, ys = zip(*pts)
    ax.scatter(xs, ys, s=31, facecolor='#f68c62', edgecolor='#74402a', linewidth=0.7, zorder=3)
    ax.fill_between(fit_x, lo, up, color='#999999', alpha=0.42, linewidth=0, zorder=4)
    ax.plot(fit_x, fit, color='#3563d8', linewidth=1.9, zorder=5)

    ax.set_ylim(*ylim)
    ax.set_xticks(xticks)
    ax.set_xticklabels(['%.1f' % v for v in xticks], fontsize=12)
    ax.set_yticks(yticks)
    ax.set_yticklabels([yfmt % v for v in yticks], fontsize=12)
    ax.set_xticks(xminor, minor=True)
    ymid = [(yticks[j] + yticks[j + 1]) / 2 for j in range(len(yticks) - 1)]
    ax.set_yticks(ymid, minor=True)
    ax.tick_params(which='both', length=0, colors='#1a1a1a')
    ax.tick_params(axis='x', pad=6)
    ax.tick_params(axis='y', pad=5)
    ax.grid(which='major', color='#f1f1f1', linewidth=1.0, zorder=0)
    ax.grid(which='minor', color='#f7f7f7', linewidth=0.7, zorder=0)
    ax.set_axisbelow(True)
    for s in ax.spines.values():
        s.set_color('#cacaca')
        s.set_linewidth(1.4)

    fig.text(fx(r2_pos[i][0]), fy(r2_pos[i][1]), r2, fontsize=13, ha='center', va='center', color='#111111')
    fig.text(fx(letter_pos[i][0]), fy(letter_pos[i][1]), letter, fontsize=23, fontweight='bold', ha='left', va='center')
    fig.text(fx(xlabel_pos[i][0]), fy(xlabel_pos[i][1]), xgene, fontsize=13, ha='center', va='center', color='#111111')
    fig.text(fx(ylabel_pos[i][0]), fy(ylabel_pos[i][1]), ygene, fontsize=13, rotation=90, ha='center', va='center', color='#111111')

fig.savefig('out.png', dpi=100, facecolor='white')
